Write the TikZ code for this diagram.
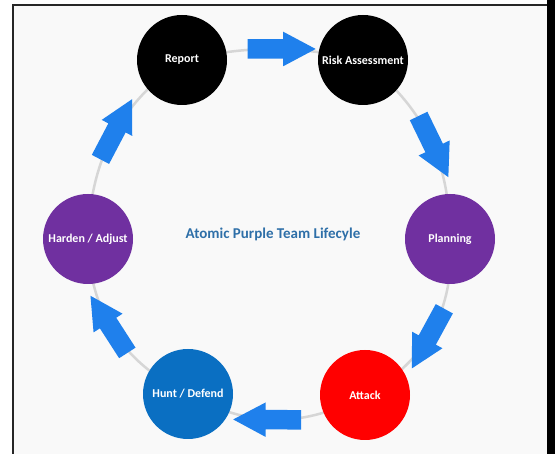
\documentclass[tikz,border=0pt]{standalone}
\usepackage{fontspec}
\setmainfont{Carlito}
\usetikzlibrary{shapes.arrows,backgrounds}
\definecolor{ringgray}{HTML}{D6D6D6}
\definecolor{stagepurple}{HTML}{7030A0}
\definecolor{stagered}{HTML}{FF0000}
\definecolor{stageblue}{HTML}{0A6FC2}
\definecolor{flowblue}{HTML}{1F80EC}
\definecolor{titleblue}{HTML}{2E6FA8}
\definecolor{panel}{HTML}{F9F9F9}
\tikzset{
  stage/.style={circle, minimum size=90pt, inner sep=0pt, text=white,
    font=\bfseries\fontsize{12}{14}\selectfont},
  ringline/.style={draw=ringgray, line width=2.5pt},
  flowarrow/.style={single arrow, fill=flowblue, draw=none, inner xsep=0pt,
    inner ysep=8.5pt, single arrow head extend=7.5pt, single arrow tip angle=56,
    minimum height=68pt, minimum width=32pt, sloped, allow upside down, pos=0.5},
  frameline/.style={draw=black!85, line width=1.5pt}
}
\begin{document}
\begin{tikzpicture}[x=1pt,y=1pt]
\useasboundingbox (0,0) rectangle (555,454);

% lifecycle stages
\node[stage, fill=black]       (report)   at (182,394) {Report};
\node[stage, fill=black]       (risk)     at (363,394) {Risk Assessment};
\node[stage, fill=stagepurple] (planning) at (450,215) {Planning};
\node[stage, fill=stagered]    (attack)   at (365,59)  {Attack};
\node[stage, fill=stageblue]   (hunt)     at (188,60)  {Hunt / Defend};
\node[stage, fill=stagepurple] (harden)   at (88,215)  {Harden / Adjust};

% title in the middle of the ring
\node[text=titleblue, font=\bfseries\fontsize{15}{18}\selectfont] (title)
  at (273,220) {Atomic Purple Team Lifecyle};

\begin{pgfonlayer}{background}
  % page and panel
  \fill[white] (0,0) rectangle (555,454);
  \fill[panel] (13,0) rectangle (547,449);
  \draw[frameline] (13,0) -- (13,449) -- (547,449);
  \fill[black] (547,0) rectangle (555,454);
  % ring segments through the stage centres, with flow arrows
  \draw[ringline] (report.center)   to[bend left=12] node[flowarrow]{} (risk.center);
  \draw[ringline] (risk.center)     to[bend left=26] node[flowarrow]{} (planning.center);
  \draw[ringline] (planning.center) to[bend left=33] node[flowarrow]{} (attack.center);
  \draw[ringline] (attack.center)   to[bend left=29] node[flowarrow]{} (hunt.center);
  \draw[ringline] (hunt.center)     to[bend left=32] node[flowarrow]{} (harden.center);
  \draw[ringline] (harden.center)   to[bend left=26] node[flowarrow]{} (report.center);
\end{pgfonlayer}
\end{tikzpicture}
\end{document}
